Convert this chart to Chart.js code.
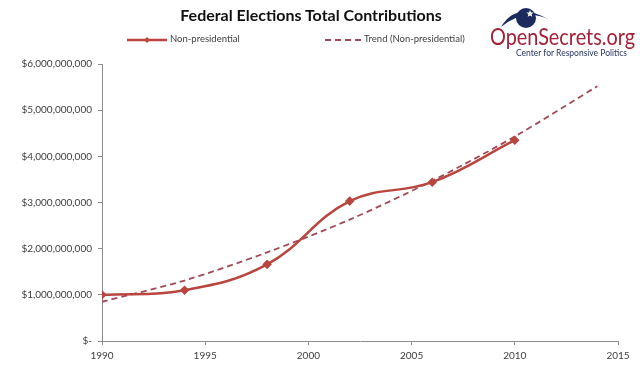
<!DOCTYPE html>
<html>
<head>
<meta charset="utf-8">
<script src="https://cdn.jsdelivr.net/npm/chart.js@4.4.0/dist/chart.umd.min.js"></script>
<style>
  body { margin: 0; background: #fff; font-family: Lato, "Open Sans", sans-serif; }
  #wrap { position: relative; width: 640px; height: 370px; }
  #chart { position: absolute; left: 0; top: 0; }
  #title { position: absolute; left: 0; width: 622px; top: 5px; text-align: center;
           font-weight: bold; font-size: 16px; color: #111; }
  .leg { position: absolute; top: 33px; font-size: 9.5px; color: #404040; white-space: nowrap; }
  .leg svg { vertical-align: middle; }
  #logo { position: absolute; left: 480px; top: 0; }
</style>
</head>
<body>
<div id="wrap">
  <canvas id="chart" width="640" height="370"></canvas>
  <div id="title">Federal Elections Total Contributions</div>
  <div class="leg" style="left:126px">
    <svg width="44" height="10"><line x1="1" y1="5" x2="41" y2="5" stroke="#B8463F" stroke-width="2.5"/>
      <path d="M21 2 L24 5 L21 8 L18 5 Z" fill="#B8463F"/></svg><span>Non-presidential</span>
  </div>
  <div class="leg" style="left:324px">
    <svg width="40" height="10"><line x1="1" y1="5" x2="38" y2="5" stroke="#A24B57" stroke-width="1.8" stroke-dasharray="6 4"/></svg><span>Trend (Non-presidential)</span>
  </div>
  <svg id="logo" width="160" height="60">
    <path d="M21 27 Q36 1 68 19 Q44 8 21 27 Z" fill="#1C2A5E"/>
    <circle cx="46" cy="18" r="10" fill="#1C2A5E"/>
    <path d="M50 10 l1 2.4 2.6 .2 -2 1.7 .7 2.5 -2.3 -1.4 -2.3 1.4 .7 -2.5 -2 -1.7 2.6 -.2 Z" fill="#fff"/>
    <text x="10" y="45" font-family="Lato, sans-serif" font-size="23" fill="#A3223A" textLength="145" lengthAdjust="spacingAndGlyphs">OpenSecrets.org</text>
    <text x="36" y="56" font-family="Lato, sans-serif" font-size="8.5" fill="#2A3563" textLength="111" lengthAdjust="spacingAndGlyphs">Center for Responsive Politics</text>
  </svg>
</div>
<script>
const years = [1990, 1994, 1998, 2002, 2006, 2010];
const contributions = [1.00e9, 1.10e9, 1.66e9, 3.03e9, 3.44e9, 4.35e9];
const trendYears = [1990, 1994, 1998, 2002, 2006, 2010, 2014];
const trendValues = [0.85e9, 1.31e9, 1.92e9, 2.63e9, 3.47e9, 4.43e9, 5.52e9];
const xTicks = [1990, 1995, 2000, 2005, 2010, 2015];
const yMax = 6e9;

const axisColor = "#8c8c8c";
const tickFont = { family: "Lato, 'Open Sans', sans-serif", size: 10 };

new Chart(document.getElementById("chart"), {
  type: "line",
  data: {
    datasets: [
      {
        label: "Non-presidential",
        data: years.map((x, i) => ({ x, y: contributions[i] })),
        borderColor: "#B8463F",
        backgroundColor: "#B8463F",
        borderWidth: 2.5,
        tension: 0.4,
        pointStyle: "rectRot",
        pointRadius: 3,
        pointHoverRadius: 3
      },
      {
        label: "Trend (Non-presidential)",
        data: trendYears.map((x, i) => ({ x, y: trendValues[i] })),
        borderColor: "#A24B57",
        borderWidth: 1.8,
        borderDash: [6, 4],
        tension: 0.3,
        pointRadius: 0
      }
    ]
  },
  options: {
    responsive: false,
    animation: false,
    layout: { padding: { top: 64, right: 22, left: 0, bottom: 0 } },
    plugins: { legend: { display: false }, tooltip: { enabled: false } },
    scales: {
      x: {
        type: "linear",
        min: xTicks[0],
        max: xTicks[xTicks.length - 1],
        afterBuildTicks: s => { s.ticks = xTicks.map(v => ({ value: v })); },
        afterFit: s => { s.height = 29; },
        grid: { drawOnChartArea: false, color: axisColor, tickLength: 4 },
        border: { color: axisColor },
        ticks: { font: tickFont, color: "#404040", padding: 5, maxRotation: 0, callback: v => String(v) }
      },
      y: {
        min: 0,
        max: yMax,
        afterFit: s => { s.width = 102; },
        grid: { drawOnChartArea: false, color: axisColor, tickLength: 4 },
        border: { color: axisColor },
        ticks: {
          stepSize: 1e9,
          font: tickFont,
          color: "#404040",
          padding: 6,
          callback: v => v === 0 ? "$-" : "$" + v.toLocaleString("en-US")
        }
      }
    }
  }
});
</script>
</body>
</html>
